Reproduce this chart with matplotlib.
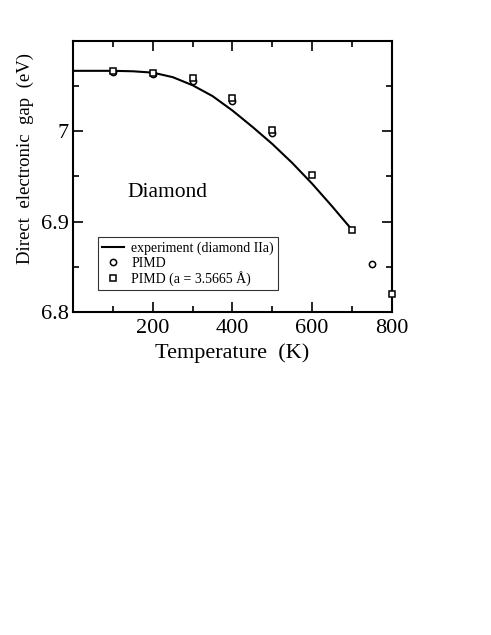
import matplotlib.pyplot as plt
from matplotlib.ticker import MultipleLocator

plt.rcParams['font.family'] = ['Liberation Serif', 'DejaVu Serif']

exp_T = [0, 100, 150, 200, 250, 300, 350, 400, 450, 500, 550, 600, 650, 700]
exp_gap = [7.067, 7.067, 7.0665, 7.065, 7.060, 7.051, 7.039, 7.023, 7.005,
           6.986, 6.965, 6.942, 6.917, 6.891]

# PIMD points
pimd_T = [100, 200, 300, 400, 500, 750]
pimd_gap = [7.066, 7.064, 7.056, 7.034, 6.998, 6.853]

# PIMD at fixed lattice constant
pimd_a_T = [100, 200, 300, 400, 500, 600, 700, 800]
pimd_a_gap = [7.067, 7.065, 7.059, 7.037, 7.002, 6.952, 6.891, 6.820]

fig = plt.figure(figsize=(4.91, 6.35), dpi=100)
ax = fig.add_axes([0.149, 0.5087, 0.649, 0.4267])

ax.plot(exp_T, exp_gap, color='black', lw=1.5, label='experiment (diamond IIa)')
ax.plot(pimd_T, pimd_gap, ls='none', marker='o', ms=4.5, mfc='white',
        mec='black', mew=1.1, label='PIMD', clip_on=False, zorder=3)
ax.plot(pimd_a_T, pimd_a_gap, ls='none', marker='s', ms=4.2, mfc='white',
        mec='black', mew=1.1, label='PIMD (a = 3.5665 Å)', clip_on=False, zorder=4)

ax.set_xlim(0, 800)
ax.set_ylim(6.8, 7.1)
ax.xaxis.set_minor_locator(MultipleLocator(100))
ax.yaxis.set_minor_locator(MultipleLocator(0.05))

ax.set_xticks([200, 400, 600, 800])
ax.set_xticklabels(['200', '400', '600', '800'])
ax.set_yticks([6.8, 6.9, 7.0])
ax.set_yticklabels(['6.8', '6.9', '7'])

ax.tick_params(which='both', direction='in', top=True, right=True,
               labelsize=16, width=1.2)
ax.tick_params(axis='y', pad=3)
ax.tick_params(axis='x', pad=5)
ax.tick_params(which='major', length=7)
ax.tick_params(which='minor', length=4.3)
for s in ax.spines.values():
    s.set_linewidth(1.5)

ax.set_xlabel('Temperature  (K)', fontsize=16, labelpad=4)
ax.set_ylabel('Direct  electronic  gap  (eV)', fontsize=13.5)
ax.yaxis.set_label_coords(-0.122, 0.568)

ax.text(137, 6.927, 'Diamond', fontsize=15.5)

leg = ax.legend(loc='lower left', bbox_to_anchor=(0.078, 0.081), fontsize=10,
                frameon=True, fancybox=False, edgecolor='black',
                borderpad=0.3, labelspacing=0.1, handlelength=1.6,
                handletextpad=0.5, borderaxespad=0)
leg.get_frame().set_linewidth(0.8)

fig.savefig('out.png', dpi=100)
